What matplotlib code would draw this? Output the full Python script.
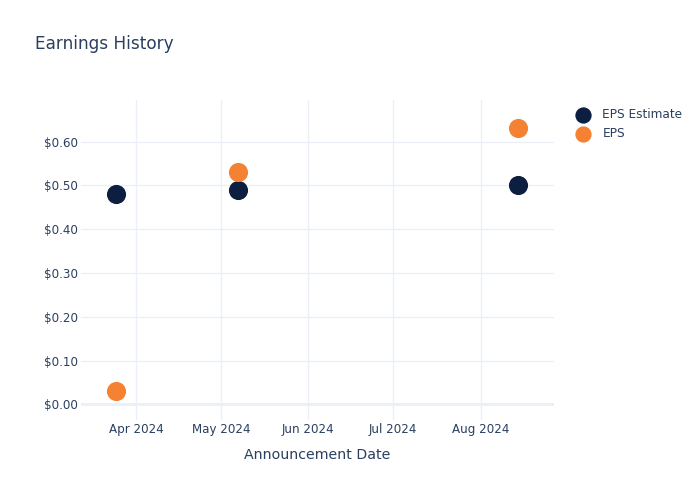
import matplotlib
matplotlib.use("Agg")
import matplotlib.pyplot as plt
import matplotlib.dates as mdates
import numpy as np
import datetime as dt

dates = ["2024-03-25", "2024-05-07", "2024-08-14"]
eps_estimate = [0.48, 0.49, 0.50]
eps_actual = [0.03, 0.53, 0.63]
series_names = ["EPS Estimate", "EPS"]
colors = ["#0c1f40", "#f58232"]

x = [dt.datetime.strptime(d, "%Y-%m-%d") for d in dates]
txt = "#2a3f5f"
grid = "#ebf0f8"

fig = plt.figure(figsize=(7, 5), dpi=100)
ax = fig.add_axes([81/700, 80/500, (554-81)/700, 320/500])

ax.scatter(x, eps_estimate, s=190, color=colors[0], zorder=3, label=series_names[0], linewidths=0)
ax.scatter(x, eps_actual, s=190, color=colors[1], zorder=3, label=series_names[1], linewidths=0)

ax.set_xlim(dt.datetime(2024, 3, 12, 12), dt.datetime(2024, 8, 26, 22))
ax.set_ylim(-0.0358, 0.6948)
ax.set_yticks(np.arange(0, 0.61, 0.1))
ax.yaxis.set_major_formatter(matplotlib.ticker.FuncFormatter(lambda v, p: f"${v:.2f}"))
ax.xaxis.set_major_locator(mdates.MonthLocator(bymonth=[4, 5, 6, 7, 8]))
ax.xaxis.set_major_formatter(mdates.DateFormatter("%b %Y"))

for s in ax.spines.values():
    s.set_visible(False)
ax.grid(True, color=grid, linewidth=1, zorder=0)
ax.axhline(0, color=grid, linewidth=2, zorder=1)
ax.tick_params(axis="y", length=0, labelsize=8.6, labelcolor=txt, pad=2)
ax.tick_params(axis="x", length=0, labelsize=8.6, labelcolor=txt, pad=2)
ax.set_xlabel("Announcement Date", fontsize=10.2, color=txt, labelpad=9)

fig.text(35/700, 1 - 44/500, "Earnings History", fontsize=12.2, color=txt, va="center", ha="left")

leg = fig.legend(loc="upper left", bbox_to_anchor=(566/700, 1 - 103/500), frameon=False,
                 fontsize=8.7, labelcolor=txt, handletextpad=0.6, labelspacing=0.55,
                 markerscale=0.85, borderaxespad=0)

fig.savefig("out.png", dpi=100)
